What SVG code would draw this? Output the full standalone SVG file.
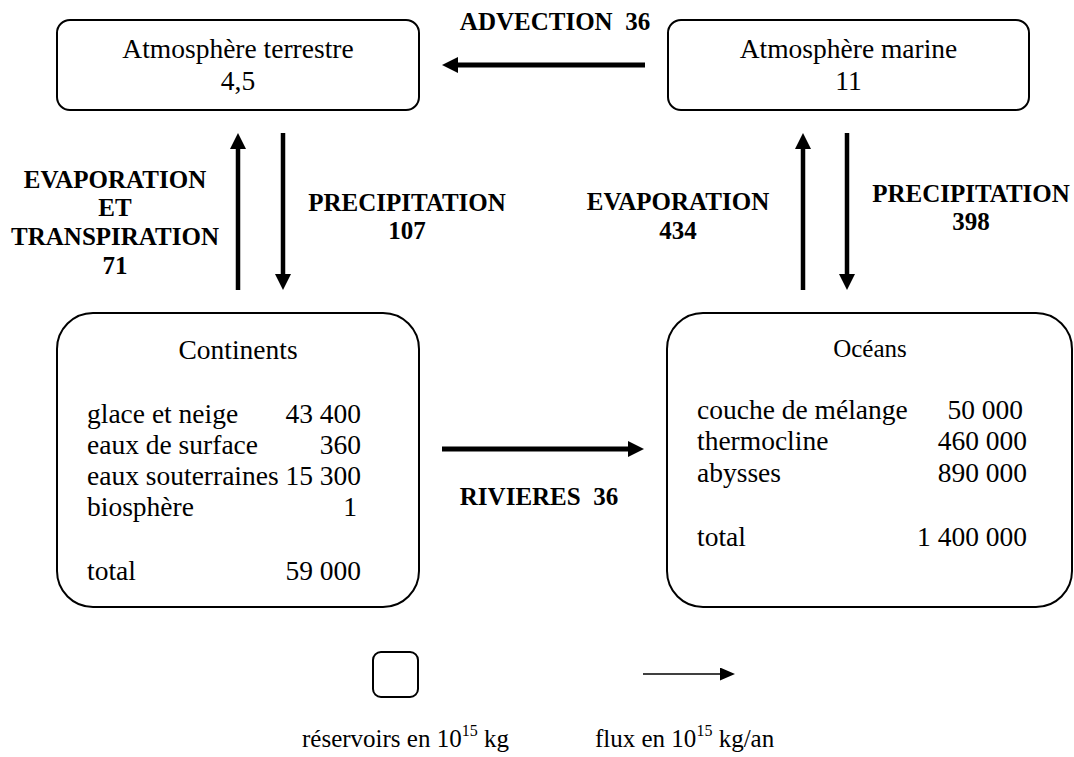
<svg xmlns="http://www.w3.org/2000/svg" width="1074" height="757" viewBox="0 0 1074 757">
<style>
text{font-family:"Liberation Serif","Times New Roman",serif;fill:#000}
.t{font-size:27.5px}
.b{font-size:25px;font-weight:bold}
.m{text-anchor:middle}
.e{text-anchor:end}
.box{fill:#fff;stroke:#000;stroke-width:2}
.fl{stroke:#000;stroke-width:4.5;fill:none}
.lg{font-size:25px}
</style>
<defs>
<marker id="ah" markerUnits="userSpaceOnUse" markerWidth="16" markerHeight="16" refX="2" refY="8" orient="auto" viewBox="0 0 16 16">
<path d="M0,0 L16,8 L0,16 z" fill="#000"/>
</marker>
<marker id="ahs" markerUnits="userSpaceOnUse" markerWidth="15" markerHeight="13" refX="2" refY="6.5" orient="auto" viewBox="0 0 15 13">
<path d="M0,0 L15,6.5 L0,13 z" fill="#000"/>
</marker>
</defs>
<rect width="1074" height="757" fill="#fff"/>

<g id="atm-terrestre">
<rect class="box" x="57" y="20" width="362" height="90" rx="13"/>
<text class="t m" x="238" y="58">Atmosphère terrestre</text>
<text class="t m" x="238" y="90">4,5</text>
</g>

<g id="atm-marine">
<rect class="box" x="668" y="20" width="361" height="90" rx="13"/>
<text class="t m" x="848.5" y="58">Atmosphère marine</text>
<text class="t m" x="848.5" y="90">11</text>
</g>

<g id="continents">
<rect class="box" x="57" y="313" width="362" height="294" rx="36"/>
<text class="t m" x="238" y="359">Continents</text>
<text class="t" x="87" y="423">glace et neige</text>
<text class="t e" x="361" y="423">43 400</text>
<text class="t" x="87" y="454">eaux de surface</text>
<text class="t e" x="361" y="454">360</text>
<text class="t" x="87" y="485">eaux souterraines</text>
<text class="t e" x="361" y="485">15 300</text>
<text class="t" x="87" y="516">biosphère</text>
<text class="t e" x="357" y="516">1</text>
<text class="t" x="87" y="580">total</text>
<text class="t e" x="361" y="580">59 000</text>
</g>

<g id="oceans">
<rect class="box" x="667" y="313" width="405" height="294" rx="36"/>
<text class="m" style="font-size:25px" x="870" y="357">Océans</text>
<text class="t" x="697" y="419">couche de mélange</text>
<text class="t e" x="1023" y="419">50 000</text>
<text class="t" x="697" y="450">thermocline</text>
<text class="t e" x="1027" y="450">460 000</text>
<text class="t" x="697" y="482">abysses</text>
<text class="t e" x="1027" y="482">890 000</text>
<text class="t" x="697" y="546">total</text>
<text class="t e" x="1027" y="546">1 400 000</text>
</g>

<g id="connectors">
<line class="fl" style="stroke-width:5" x1="645" y1="65" x2="456" y2="65" marker-end="url(#ah)"/>
<line class="fl" x1="238" y1="290" x2="238" y2="147" marker-end="url(#ah)"/>
<line class="fl" x1="283" y1="133" x2="283" y2="276" marker-end="url(#ah)"/>
<line class="fl" x1="803" y1="290" x2="803" y2="147" marker-end="url(#ah)"/>
<line class="fl" x1="847" y1="133" x2="847" y2="276" marker-end="url(#ah)"/>
<line class="fl" style="stroke-width:5" x1="442" y1="449" x2="630" y2="449" marker-end="url(#ah)"/>
</g>

<g id="labels">
<text class="b m" x="555" y="30" style="white-space:pre" xml:space="preserve">ADVECTION  36</text>
<text class="b m" x="115" y="188">EVAPORATION</text>
<text class="b m" x="115" y="216">ET</text>
<text class="b m" x="115" y="245">TRANSPIRATION</text>
<text class="b m" x="115" y="274">71</text>
<text class="b m" x="407" y="211">PRECIPITATION</text>
<text class="b m" x="407" y="239">107</text>
<text class="b m" x="678" y="210">EVAPORATION</text>
<text class="b m" x="678" y="239">434</text>
<text class="b m" x="971" y="202">PRECIPITATION</text>
<text class="b m" x="971" y="230">398</text>
<text class="b m" x="539" y="505" xml:space="preserve">RIVIERES  36</text>
</g>

<g id="legend">
<rect class="box" x="373" y="652" width="45" height="45" rx="8"/>
<line stroke="#000" stroke-width="1.6" x1="643" y1="674" x2="722" y2="674" marker-end="url(#ahs)"/>
<text class="lg" x="302" y="747">réservoirs en 10<tspan font-size="16" dy="-11">15</tspan><tspan dy="11"> kg</tspan></text>
<text class="lg" x="595" y="747">flux en 10<tspan font-size="16" dy="-11">15</tspan><tspan dy="11"> kg/an</tspan></text>
</g>
</svg>
